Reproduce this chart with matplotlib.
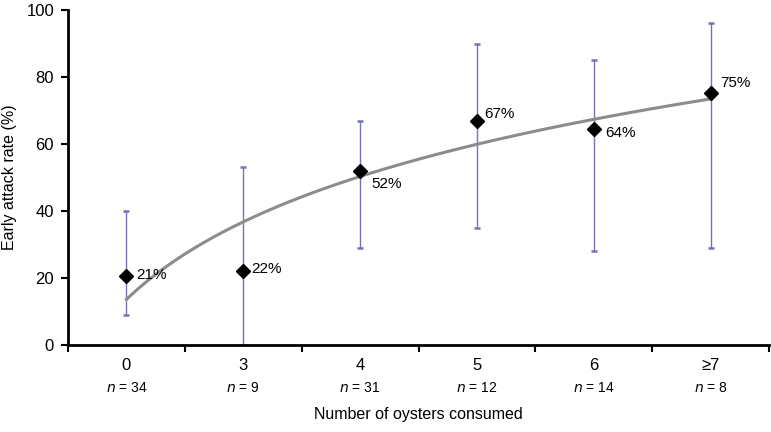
import numpy as np
import matplotlib
matplotlib.use("Agg")
import matplotlib.pyplot as plt

plt.rcParams['font.family'] = ['Liberation Sans Narrow', 'Liberation Sans', 'DejaVu Sans']

categories = ['0', '3', '4', '5', '6', '\u22657']
n_labels = ['34', '9', '31', '12', '14', '8']
rates = [20.6, 22.2, 51.9, 67.0, 64.5, 75.2]
ci_low = [9, 0, 29, 35, 28, 29]
ci_high = [40, 53, 67, 90, 85, 96]
pct_labels = ['21%', '22%', '52%', '67%', '64%', '75%']

fig = plt.figure(figsize=(7.71, 4.32), dpi=100)
ax = fig.add_axes([68/771, 1-345/432, (769-68)/771, (345-10)/432])

x = np.arange(len(categories))
rates_a = np.array(rates)
lo = rates_a - np.array(ci_low)
hi = np.array(ci_high) - rates_a

ax.errorbar(x, rates_a, yerr=[lo, hi], fmt='none', ecolor='#7474b6',
            elinewidth=1.0, capsize=2.2, capthick=1.8, zorder=2)

# logarithmic trend line (least-squares fit on ln(order))
order = x + 1
a, b = np.polyfit(np.log(order), rates_a, 1)
xs = np.linspace(1, len(categories), 200)
ax.plot(xs - 1, a*np.log(xs) + b, color='#8c8c8c', lw=2.2, zorder=3)

ax.plot(x, rates_a, linestyle='none', marker='D', color='black',
        markersize=7.5, zorder=4)

offsets = [(7, 1), (6, 1), (8, -9.5), (5.5, 5), (8.5, -3), (7, 7.5)]
for xi, yi, lab, (dx, dy) in zip(x, rates_a, pct_labels, offsets):
    ax.annotate(lab, (xi, yi), xytext=(dx, dy), textcoords='offset points',
                ha='left', va='center', fontsize=11, color='black')

ax.set_xlim(-0.5, len(categories) - 0.5)
ax.set_ylim(0, 100)
ax.set_yticks([0, 20, 40, 60, 80, 100])
ax.set_xticks(np.arange(-0.5, len(categories) + 0.5, 1))
ax.set_xticklabels([])
ax.tick_params(axis='y', labelsize=12, length=5, width=1.5, direction='out', pad=5)
ax.tick_params(axis='x', length=5, width=1.5, direction='out')

for xi, cat, nl in zip(x, categories, n_labels):
    ax.text(xi, -3.8, cat, ha='center', va='top', fontsize=12)
    ax.text(xi, -10.8, r'$\it{n}$' + ' = ' + nl, ha='center', va='top', fontsize=10)

ax.spines['top'].set_visible(False)
ax.spines['right'].set_visible(False)
ax.spines['left'].set_linewidth(2)
ax.spines['bottom'].set_linewidth(2)

ax.set_ylabel('Early attack rate (%)', fontsize=11.5, labelpad=7)
fig.text(418/771, 1 - 414/432, 'Number of oysters consumed',
         ha='center', va='center', fontsize=11.5)

fig.savefig('out.png', dpi=100)
